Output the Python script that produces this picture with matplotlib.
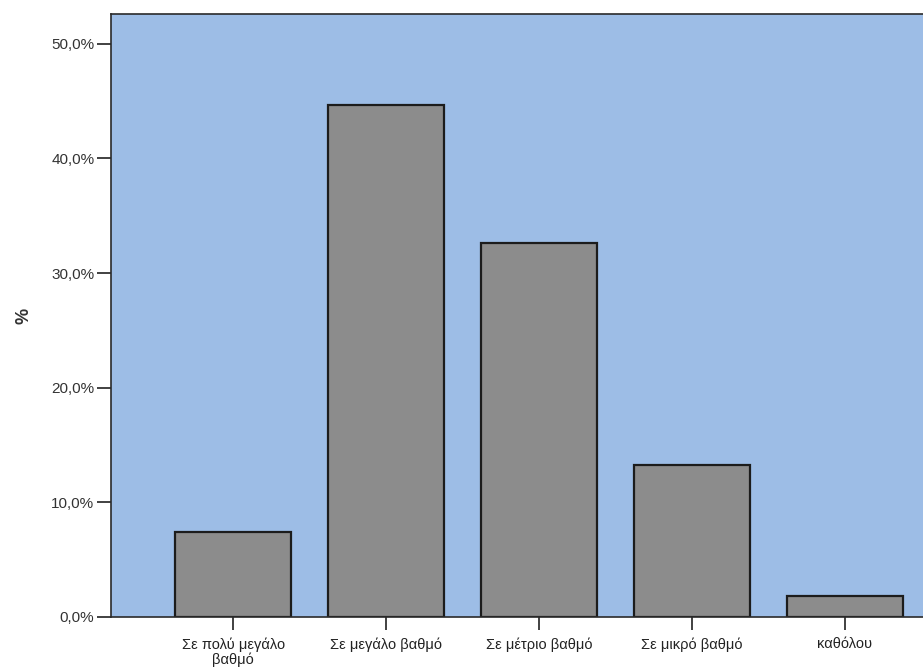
import numpy as np
import matplotlib.pyplot as plt
from matplotlib.ticker import FuncFormatter

# categories and percentages
categories = ['Σε πολύ μεγάλο\nβαθμό', 'Σε μεγάλο βαθμό', 'Σε μέτριο βαθμό',
              'Σε μικρό βαθμό', 'καθόλου']
percents = [7.4, 44.7, 32.6, 13.3, 1.8]
yticks = [0, 10, 20, 30, 40, 50]

plt.rcParams['font.family'] = ['Liberation Sans', 'DejaVu Sans']

fig = plt.figure(figsize=(9.23, 6.69), dpi=100)
ax = fig.add_axes([111/923, 1 - 617/669, (923-111)/923, (617-14)/669])
ax.set_facecolor('#9dbde6')

x = np.arange(len(categories))
ax.bar(x, percents, width=0.76, color='#8c8c8c', edgecolor='#1c1c1c', linewidth=1.6)

ax.set_xlim(-0.8, 4.51)
ax.set_ylim(0, 52.6)
ax.set_xticks(x)
ax.set_xticklabels(categories, fontsize=10.5, color='#222222', linespacing=1.05)
ax.set_yticks(yticks)
ax.yaxis.set_major_formatter(FuncFormatter(lambda v, p: f'{v:.1f}%'.replace('.', ',')))
ax.tick_params(axis='y', labelsize=11, labelcolor='#333333', length=10, width=1.3,
               color='#333333', pad=2)
ax.tick_params(axis='x', length=9.5, width=1.3, color='#333333', pad=5)

ax.set_ylabel('%', fontsize=13, fontweight='bold', color='#333333')
ax.yaxis.set_label_coords(-0.097, 0.5)

for s in ['top', 'left', 'bottom']:
    ax.spines[s].set_color('#2a2a2a')
    ax.spines[s].set_linewidth(1.2)
ax.spines['right'].set_visible(False)

fig.savefig('out.png', dpi=100)
